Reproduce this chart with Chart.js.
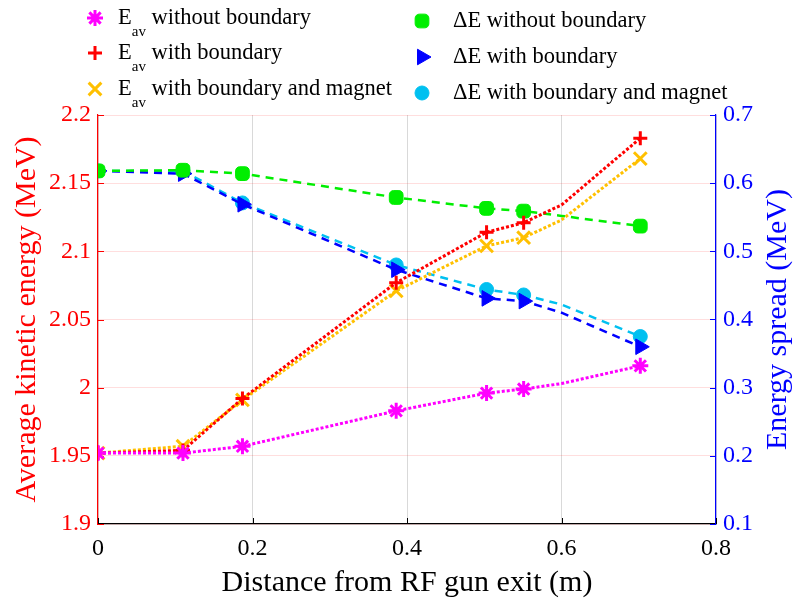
<!DOCTYPE html>
<html>
<head>
<meta charset="utf-8">
<script src="https://cdn.jsdelivr.net/npm/chart.js@4.4.1/dist/chart.umd.min.js"></script>
<style>
    html, body { margin: 0; padding: 0; background: #fff; }
    #wrap { width: 795px; height: 601px; }
</style>
</head>
<body>
<div id="wrap"><canvas id="energyChart" width="795" height="601"></canvas></div>
<script>
// ============================================================================
// DATA
// ============================================================================
const distance = [0, 0.11, 0.187, 0.386, 0.503, 0.551, 0.6, 0.702];
const noMarkerAt = [0.6];

const eavNoBoundary = [1.952, 1.952, 1.957, 1.983, 1.996, 1.999, 2.003, 2.016];
const eavBoundary   = [1.952, 1.954, 1.992, 2.077, 2.114, 2.121, 2.134, 2.183];
const eavMagnet     = [1.952, 1.957, 1.991, 2.071, 2.104, 2.110, 2.123, 2.168];

const dENoBoundary  = [0.618, 0.619, 0.614, 0.579, 0.563, 0.559, 0.552, 0.537];
const dEBoundary    = [0.618, 0.614, 0.569, 0.473, 0.431, 0.427, 0.410, 0.360];
const dEMagnet      = [0.618, 0.618, 0.571, 0.480, 0.444, 0.436, 0.422, 0.375];

const xTicks = [0, 0.2, 0.4, 0.6, 0.8];
const yLeftTicks = [1.9, 1.95, 2, 2.05, 2.1, 2.15, 2.2];
const yRightTicks = [0.1, 0.2, 0.3, 0.4, 0.5, 0.6, 0.7];

const FONT = "'Liberation Serif', 'Times New Roman', serif";

// ============================================================================
// HELPERS
// ============================================================================
function toPoints(values) {
    return values.map((v, i) => ({ x: distance[i], y: v }));
}

function makeSeries(label, values, axis, color, style, radius, dash, width, markerLine, rotation) {
    return {
        label: label,
        data: toPoints(values),
        yAxisID: axis,
        borderColor: color,
        backgroundColor: color,
        borderWidth: width,
        borderDash: dash,
        pointStyle: style,
        pointRotation: rotation || 0,
        pointBorderColor: color,
        pointBackgroundColor: color,
        pointBorderWidth: markerLine,
        markerSize: radius,
        pointRadius: (c) => noMarkerAt.includes(distance[c.dataIndex]) ? 0 : radius,
        tension: 0,
        fill: false
    };
}

const datasets = [
    makeSeries('Eav without boundary', eavNoBoundary, 'y', '#ff00ff', 'star', 8, [3, 2], 3, 3),
    makeSeries('Eav with boundary', eavBoundary, 'y', '#ff0000', 'cross', 7, [3, 2], 3, 3),
    makeSeries('Eav with boundary and magnet', eavMagnet, 'y', '#ffc000', 'crossRot', 9, [3, 2], 3, 3),
    makeSeries('ΔE without boundary', dENoBoundary, 'y1', '#00ee00', 'rectRounded', 8, [8, 6], 2.5, 1),
    makeSeries('ΔE with boundary', dEBoundary, 'y1', '#0000ff', 'triangle', 9, [8, 6], 2.5, 1, 90),
    makeSeries('ΔE with boundary and magnet', dEMagnet, 'y1', '#00c0f0', 'circle', 7, [8, 6], 2.5, 1)
];

// ============================================================================
// LEGEND (two columns, with subscript) + right axis title
// ============================================================================
const legendItems = [
    { ds: 0, x: 95,  y: 18, main: 'E', sub: 'av', rest: ' without boundary' },
    { ds: 1, x: 95,  y: 53, main: 'E', sub: 'av', rest: ' with boundary' },
    { ds: 2, x: 95,  y: 89, main: 'E', sub: 'av', rest: ' with boundary and magnet' },
    { ds: 3, x: 422, y: 21, main: 'ΔE without boundary', sub: '', rest: '' },
    { ds: 4, x: 422, y: 57, main: 'ΔE with boundary', sub: '', rest: '' },
    { ds: 5, x: 422, y: 93, main: 'ΔE with boundary and magnet', sub: '', rest: '' }
];

const legendPlugin = {
    id: 'twoColLegend',
    afterDraw(chart) {
        const ctx = chart.ctx;
        ctx.save();
        legendItems.forEach(item => {
            const d = chart.data.datasets[item.ds];
            ctx.strokeStyle = d.borderColor;
            ctx.fillStyle = d.borderColor;
            ctx.lineWidth = d.pointBorderWidth;
            ctx.setLineDash([]);
            Chart.helpers.drawPoint(ctx, {
                pointStyle: d.pointStyle,
                radius: d.markerSize,
                rotation: d.pointRotation,
                borderWidth: d.pointBorderWidth
            }, item.x, item.y);

            ctx.fillStyle = '#000';
            ctx.textBaseline = 'middle';
            ctx.textAlign = 'left';
            let tx = item.x + 23 + (item.sub ? 0 : 8);
            ctx.font = '22.5px ' + FONT;
            ctx.fillText(item.main, tx, item.y);
            tx += ctx.measureText(item.main).width;
            if (item.sub) {
                ctx.font = '15px ' + FONT;
                ctx.fillText(item.sub, tx, item.y + 14);
                tx += ctx.measureText(item.sub).width;
                ctx.font = '22.5px ' + FONT;
                ctx.fillText(item.rest, tx, item.y);
            }
        });

        // right axis title, reading bottom to top
        const area = chart.chartArea;
        ctx.translate(778, (area.top + area.bottom) / 2);
        ctx.rotate(-Math.PI / 2);
        ctx.font = '30px ' + FONT;
        ctx.fillStyle = '#0000ff';
        ctx.textAlign = 'center';
        ctx.textBaseline = 'middle';
        ctx.fillText('Energy spread (MeV)', 0, 0);
        ctx.restore();
    }
};

// inward tick marks, like the original plot
const innerTicksPlugin = {
    id: 'innerTicks',
    beforeDatasetsDraw(chart) {
        const { ctx, chartArea, scales } = chart;
        const len = 6;
        ctx.save();
        ctx.lineWidth = 1;
        ctx.strokeStyle = '#000';
        xTicks.forEach(v => {
            const px = Math.round(scales.x.getPixelForValue(v)) + 0.5;
            ctx.beginPath();
            ctx.moveTo(px, chartArea.bottom);
            ctx.lineTo(px, chartArea.bottom - len);
            ctx.stroke();
        });
        ctx.strokeStyle = '#ff0000';
        yLeftTicks.forEach(v => {
            const py = Math.round(scales.y.getPixelForValue(v)) + 0.5;
            ctx.beginPath();
            ctx.moveTo(chartArea.left, py);
            ctx.lineTo(chartArea.left + len, py);
            ctx.stroke();
        });
        ctx.strokeStyle = '#0000ff';
        yRightTicks.forEach(v => {
            const py = Math.round(scales.y1.getPixelForValue(v)) + 0.5;
            ctx.beginPath();
            ctx.moveTo(chartArea.right, py);
            ctx.lineTo(chartArea.right - len, py);
            ctx.stroke();
        });
        ctx.restore();
    }
};

// ============================================================================
// CHART
// ============================================================================
const ctx = document.getElementById('energyChart').getContext('2d');
const chart = new Chart(ctx, {
    type: 'line',
    data: { datasets: datasets },
    options: {
        responsive: false,
        animation: false,
        layout: { padding: { top: 115, left: 0, right: 0, bottom: 0 } },
        plugins: {
            legend: { display: false },
            tooltip: { enabled: false }
        },
        scales: {
            x: {
                type: 'linear',
                min: 0,
                max: 0.8,
                afterFit: (s) => { s.height = 77; },
                afterBuildTicks: (s) => { s.ticks = xTicks.map(v => ({ value: v })); },
                ticks: {
                    color: '#000',
                    font: { family: FONT, size: 24 },
                    padding: 10,
                    maxRotation: 0,
                    autoSkip: false,
                    callback: (v) => String(v)
                },
                grid: { color: 'rgba(0,0,0,0.15)', drawTicks: false },
                border: { color: '#000', width: 1.2 },
                title: {
                    display: true,
                    text: 'Distance from RF gun exit (m)',
                    color: '#000',
                    font: { family: FONT, size: 30 },
                    padding: { top: 0, bottom: 0 }
                }
            },
            y: {
                type: 'linear',
                position: 'left',
                min: 1.9,
                max: 2.2,
                afterFit: (s) => { s.width = 98; },
                afterBuildTicks: (s) => { s.ticks = yLeftTicks.map(v => ({ value: v })); },
                ticks: {
                    color: '#ff0000',
                    font: { family: FONT, size: 24 },
                    padding: 7,
                    callback: (v) => String(v)
                },
                grid: { color: 'rgba(255,0,0,0.13)', drawTicks: false },
                border: { color: '#ff0000', width: 1.2 },
                title: {
                    display: true,
                    text: 'Average kinetic energy (MeV)',
                    color: '#ff0000',
                    font: { family: FONT, size: 30 },
                    padding: { top: 9, bottom: 0 }
                }
            },
            y1: {
                type: 'linear',
                position: 'right',
                min: 0.1,
                max: 0.7,
                afterFit: (s) => { s.width = 79; },
                afterBuildTicks: (s) => { s.ticks = yRightTicks.map(v => ({ value: v })); },
                ticks: {
                    color: '#0000ff',
                    font: { family: FONT, size: 24 },
                    padding: 7,
                    callback: (v) => String(v)
                },
                grid: { drawOnChartArea: false, drawTicks: false },
                border: { color: '#0000ff', width: 1.2 },
                title: { display: false }
            }
        }
    },
    plugins: [innerTicksPlugin, legendPlugin]
});
</script>
</body>
</html>
